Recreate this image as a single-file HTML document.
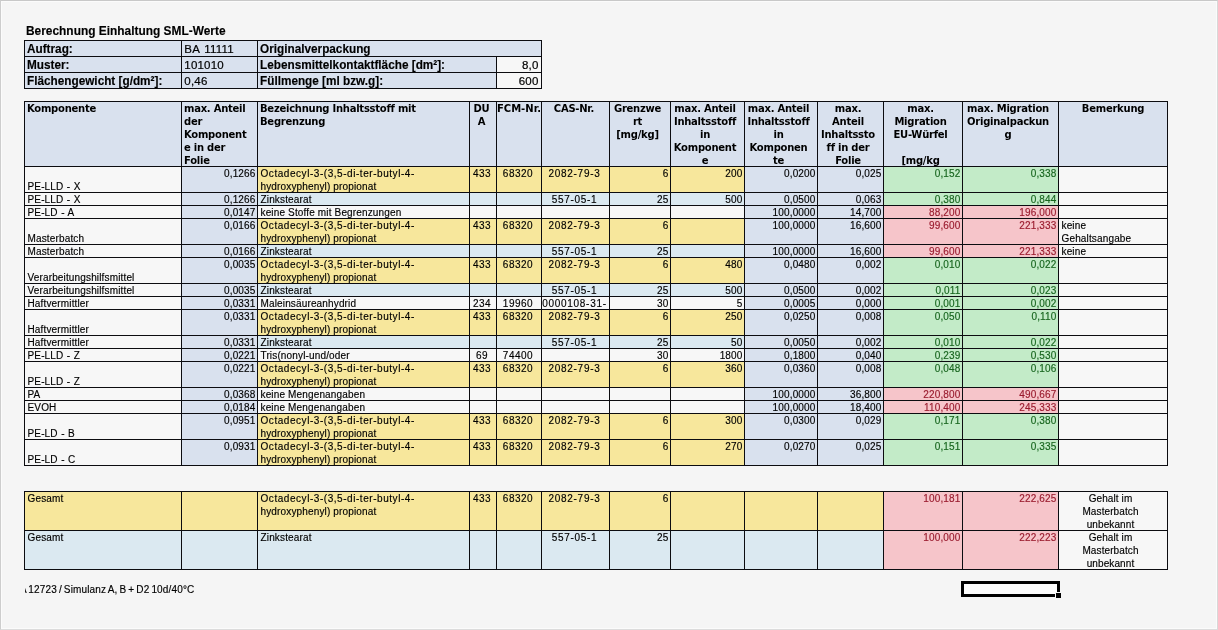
<!DOCTYPE html>
<html lang="de">
<head>
<meta charset="utf-8">
<title>Berechnung Einhaltung SML-Werte</title>
<style>
html,body{margin:0;padding:0}
body{width:1218px;height:630px;position:relative;overflow:hidden;background:#f5f5f5;font-family:"Liberation Sans",Arial,sans-serif;color:#000}
.frame{position:absolute;left:0;top:0;width:1216px;height:628px;border:1px solid #c8c8c8;border-left-color:#cdcdcd;border-right-color:#d8d8d8;border-bottom-color:#dcdcdc;box-shadow:inset 0 0 0 1px #fbfbfb}
.g{position:absolute;background:#0c0c10}
.c{position:absolute;box-sizing:border-box;overflow:hidden;white-space:nowrap;padding:0 1px 0 2px}
.title{position:absolute;left:25.5px;top:23px;font-weight:bold;font-size:12.3px;line-height:16px;white-space:nowrap;-webkit-text-stroke:.15px;transform:scaleX(.968);transform-origin:0 0}
.tb{font-weight:bold;font-size:12.3px;line-height:15px;-webkit-text-stroke:.15px;padding:1px 0 0 1.5px}
.tb span{display:inline-block;transform:scaleX(.957);transform-origin:0 0}
.tn{font-size:11.5px;line-height:15px;letter-spacing:.2px;-webkit-text-stroke:.2px;padding:1px 0 0 2.3px;word-spacing:1.5px}
.tn.r{padding-right:2.5px}
.h{font-family:"DejaVu Sans","Liberation Sans",sans-serif;font-weight:bold;font-size:10px;line-height:13px;letter-spacing:-.25px}
.n{font-size:10px;line-height:13px;letter-spacing:.15px;-webkit-text-stroke:.15px;padding-left:2.5px}
.nm{word-spacing:.5px}
.n span{letter-spacing:.55px}
.r{text-align:right;padding-right:1.5px}
.ctr{text-align:center}
.n.ctr{padding:0 2px 0 0;letter-spacing:.5px}
.n.ctr.hy{letter-spacing:.7px}
.n.ctr.tx{padding:0 5px 0 0;letter-spacing:.1px}
.h.ctr{padding:0 3px 0 0}
.h.fc{padding:0;letter-spacing:0}
.h.c2{padding:0 5px 0 0}
.h.c0{padding:0}
.bot{padding-top:13px}
.gt{color:#17651e}
.rt{color:#9a1b2e}
.foot{position:absolute;left:25px;top:583px;width:300px;height:13px;overflow:hidden;white-space:nowrap;font-size:10px;line-height:13px;letter-spacing:.15px;word-spacing:-.9px;-webkit-text-stroke:.15px}
.foot span{margin-left:-5px}
.sel{position:absolute;left:961px;top:581px;width:99px;height:16px;box-sizing:border-box;border:3px solid #000;background:#fcfcfc}
.hand{position:absolute;left:1055px;top:592px;width:5px;height:5px;background:#000;border-left:1px solid #f5f5f5;border-top:1px solid #f5f5f5}
</style>
</head>
<body>
<div class="frame"></div>
<div class="title">Berechnung Einhaltung SML-Werte</div>
<div class="g" style="left:24px;top:40px;width:518px;height:49px"></div>
<div class="c tb" style="left:25px;top:41px;width:156px;height:15px;background:#d9e1ee"><span>Auftrag:</span></div>
<div class="c tn" style="left:182px;top:41px;width:75px;height:15px;background:#d9e1ee">BA 11111</div>
<div class="c tb" style="left:258px;top:41px;width:283px;height:15px;background:#d9e1ee"><span>Originalverpackung</span></div>
<div class="c tb" style="left:25px;top:57px;width:156px;height:15px;background:#d9e1ee"><span>Muster:</span></div>
<div class="c tn" style="left:182px;top:57px;width:75px;height:15px;background:#d9e1ee">101010</div>
<div class="c tb" style="left:258px;top:57px;width:238px;height:15px;background:#d9e1ee"><span>Lebensmittelkontaktfläche [dm²]:</span></div>
<div class="c tn r" style="left:497px;top:57px;width:44px;height:15px;background:#f7f7f7">8,0</div>
<div class="c tb" style="left:25px;top:73px;width:156px;height:15px;background:#d9e1ee"><span>Flächengewicht [g/dm²]:</span></div>
<div class="c tn" style="left:182px;top:73px;width:75px;height:15px;background:#d9e1ee">0,46</div>
<div class="c tb" style="left:258px;top:73px;width:238px;height:15px;background:#d9e1ee"><span>Füllmenge [ml bzw.g]:</span></div>
<div class="c tn r" style="left:497px;top:73px;width:44px;height:15px;background:#f7f7f7">600</div>
<div class="g" style="left:24px;top:101px;width:1144px;height:365px"></div>
<div class="c h" style="left:25px;top:102px;width:156px;height:64px;background:#d9e1ee">Komponente</div>
<div class="c h" style="left:182px;top:102px;width:75px;height:64px;background:#d9e1ee">max. Anteil<br>der<br>Komponent<br>e in der<br>Folie</div>
<div class="c h" style="left:258px;top:102px;width:211px;height:64px;background:#d9e1ee">Bezeichnung Inhaltsstoff mit<br>Begrenzung</div>
<div class="c h ctr" style="left:470px;top:102px;width:26px;height:64px;background:#d9e1ee">DU<br>A</div>
<div class="c h fc" style="left:497px;top:102px;width:44px;height:64px;background:#d9e1ee">FCM-Nr.</div>
<div class="c h ctr" style="left:542px;top:102px;width:67px;height:64px;background:#d9e1ee">CAS-Nr.</div>
<div class="c h ctr c2" style="left:610px;top:102px;width:60px;height:64px;background:#d9e1ee">Grenzwe<br>rt<br>[mg/kg]</div>
<div class="c h ctr c2" style="left:671px;top:102px;width:73px;height:64px;background:#d9e1ee">max. Anteil<br>Inhaltsstoff<br>in<br>Komponent<br>e</div>
<div class="c h ctr c2" style="left:745px;top:102px;width:72px;height:64px;background:#d9e1ee">max. Anteil<br>Inhaltsstoff<br>in<br>Komponen<br>te</div>
<div class="c h ctr c2" style="left:818px;top:102px;width:65px;height:64px;background:#d9e1ee">max.<br>Anteil<br>Inhaltssto<br>ff in der<br>Folie</div>
<div class="c h ctr c2" style="left:884px;top:102px;width:78px;height:64px;background:#d9e1ee">max.<br>Migration<br>EU-Würfel<br><br>[mg/kg</div>
<div class="c h ctr c2" style="left:963px;top:102px;width:95px;height:64px;background:#d9e1ee">max. Migration<br>Originalpackun<br>g</div>
<div class="c h ctr c0" style="left:1059px;top:102px;width:108px;height:64px;background:#d9e1ee">Bemerkung</div>
<div class="c n nm bot" style="left:25px;top:167px;width:156px;height:25px;background:#f7f7f7">PE-LLD - X</div>
<div class="c n r" style="left:182px;top:167px;width:75px;height:25px;background:#d9e1ee">0,1266</div>
<div class="c n" style="left:258px;top:167px;width:211px;height:25px;background:#f7e79c"><span>Octadecyl-3-(3,5-di-ter-butyl-4-</span><br>hydroxyphenyl) propionat</div>
<div class="c n ctr" style="left:470px;top:167px;width:26px;height:25px;background:#f7e79c">433</div>
<div class="c n ctr" style="left:497px;top:167px;width:44px;height:25px;background:#f7e79c">68320</div>
<div class="c n ctr hy" style="left:542px;top:167px;width:67px;height:25px;background:#f7e79c">2082-79-3</div>
<div class="c n r" style="left:610px;top:167px;width:60px;height:25px;background:#f7e79c">6</div>
<div class="c n r" style="left:671px;top:167px;width:73px;height:25px;background:#f7e79c">200</div>
<div class="c n r" style="left:745px;top:167px;width:72px;height:25px;background:#d9e1ee">0,0200</div>
<div class="c n r" style="left:818px;top:167px;width:65px;height:25px;background:#d9e1ee">0,025</div>
<div class="c n r gt" style="left:884px;top:167px;width:78px;height:25px;background:#c3ebc8">0,152</div>
<div class="c n r gt" style="left:963px;top:167px;width:95px;height:25px;background:#c3ebc8">0,338</div>
<div class="c n" style="left:1059px;top:167px;width:108px;height:25px;background:#f7f7f7"></div>
<div class="c n nm" style="left:25px;top:193px;width:156px;height:12px;background:#f7f7f7">PE-LLD - X</div>
<div class="c n r" style="left:182px;top:193px;width:75px;height:12px;background:#d9e1ee">0,1266</div>
<div class="c n" style="left:258px;top:193px;width:211px;height:12px;background:#dbe9f1">Zinkstearat</div>
<div class="c n ctr" style="left:470px;top:193px;width:26px;height:12px;background:#dbe9f1"></div>
<div class="c n ctr" style="left:497px;top:193px;width:44px;height:12px;background:#dbe9f1"></div>
<div class="c n ctr hy" style="left:542px;top:193px;width:67px;height:12px;background:#dbe9f1">557-05-1</div>
<div class="c n r" style="left:610px;top:193px;width:60px;height:12px;background:#dbe9f1">25</div>
<div class="c n r" style="left:671px;top:193px;width:73px;height:12px;background:#dbe9f1">500</div>
<div class="c n r" style="left:745px;top:193px;width:72px;height:12px;background:#d9e1ee">0,0500</div>
<div class="c n r" style="left:818px;top:193px;width:65px;height:12px;background:#d9e1ee">0,063</div>
<div class="c n r gt" style="left:884px;top:193px;width:78px;height:12px;background:#c3ebc8">0,380</div>
<div class="c n r gt" style="left:963px;top:193px;width:95px;height:12px;background:#c3ebc8">0,844</div>
<div class="c n" style="left:1059px;top:193px;width:108px;height:12px;background:#f7f7f7"></div>
<div class="c n nm" style="left:25px;top:206px;width:156px;height:12px;background:#f7f7f7">PE-LD - A</div>
<div class="c n r" style="left:182px;top:206px;width:75px;height:12px;background:#d9e1ee">0,0147</div>
<div class="c n" style="left:258px;top:206px;width:211px;height:12px;background:#f7f7f7">keine Stoffe mit Begrenzungen</div>
<div class="c n ctr" style="left:470px;top:206px;width:26px;height:12px;background:#f7f7f7"></div>
<div class="c n ctr" style="left:497px;top:206px;width:44px;height:12px;background:#f7f7f7"></div>
<div class="c n ctr hy" style="left:542px;top:206px;width:67px;height:12px;background:#f7f7f7"></div>
<div class="c n r" style="left:610px;top:206px;width:60px;height:12px;background:#f7f7f7"></div>
<div class="c n r" style="left:671px;top:206px;width:73px;height:12px;background:#f7f7f7"></div>
<div class="c n r" style="left:745px;top:206px;width:72px;height:12px;background:#d9e1ee">100,0000</div>
<div class="c n r" style="left:818px;top:206px;width:65px;height:12px;background:#d9e1ee">14,700</div>
<div class="c n r rt" style="left:884px;top:206px;width:78px;height:12px;background:#f6c5ca">88,200</div>
<div class="c n r rt" style="left:963px;top:206px;width:95px;height:12px;background:#f6c5ca">196,000</div>
<div class="c n" style="left:1059px;top:206px;width:108px;height:12px;background:#f7f7f7"></div>
<div class="c n nm bot" style="left:25px;top:219px;width:156px;height:25px;background:#f7f7f7">Masterbatch</div>
<div class="c n r" style="left:182px;top:219px;width:75px;height:25px;background:#d9e1ee">0,0166</div>
<div class="c n" style="left:258px;top:219px;width:211px;height:25px;background:#f7e79c"><span>Octadecyl-3-(3,5-di-ter-butyl-4-</span><br>hydroxyphenyl) propionat</div>
<div class="c n ctr" style="left:470px;top:219px;width:26px;height:25px;background:#f7e79c">433</div>
<div class="c n ctr" style="left:497px;top:219px;width:44px;height:25px;background:#f7e79c">68320</div>
<div class="c n ctr hy" style="left:542px;top:219px;width:67px;height:25px;background:#f7e79c">2082-79-3</div>
<div class="c n r" style="left:610px;top:219px;width:60px;height:25px;background:#f7e79c">6</div>
<div class="c n r" style="left:671px;top:219px;width:73px;height:25px;background:#f7e79c"></div>
<div class="c n r" style="left:745px;top:219px;width:72px;height:25px;background:#d9e1ee">100,0000</div>
<div class="c n r" style="left:818px;top:219px;width:65px;height:25px;background:#d9e1ee">16,600</div>
<div class="c n r rt" style="left:884px;top:219px;width:78px;height:25px;background:#f6c5ca">99,600</div>
<div class="c n r rt" style="left:963px;top:219px;width:95px;height:25px;background:#f6c5ca">221,333</div>
<div class="c n" style="left:1059px;top:219px;width:108px;height:25px;background:#f7f7f7">keine<br>Gehaltsangabe</div>
<div class="c n nm" style="left:25px;top:245px;width:156px;height:12px;background:#f7f7f7">Masterbatch</div>
<div class="c n r" style="left:182px;top:245px;width:75px;height:12px;background:#d9e1ee">0,0166</div>
<div class="c n" style="left:258px;top:245px;width:211px;height:12px;background:#dbe9f1">Zinkstearat</div>
<div class="c n ctr" style="left:470px;top:245px;width:26px;height:12px;background:#dbe9f1"></div>
<div class="c n ctr" style="left:497px;top:245px;width:44px;height:12px;background:#dbe9f1"></div>
<div class="c n ctr hy" style="left:542px;top:245px;width:67px;height:12px;background:#dbe9f1">557-05-1</div>
<div class="c n r" style="left:610px;top:245px;width:60px;height:12px;background:#dbe9f1">25</div>
<div class="c n r" style="left:671px;top:245px;width:73px;height:12px;background:#dbe9f1"></div>
<div class="c n r" style="left:745px;top:245px;width:72px;height:12px;background:#d9e1ee">100,0000</div>
<div class="c n r" style="left:818px;top:245px;width:65px;height:12px;background:#d9e1ee">16,600</div>
<div class="c n r rt" style="left:884px;top:245px;width:78px;height:12px;background:#f6c5ca">99,600</div>
<div class="c n r rt" style="left:963px;top:245px;width:95px;height:12px;background:#f6c5ca">221,333</div>
<div class="c n" style="left:1059px;top:245px;width:108px;height:12px;background:#f7f7f7">keine</div>
<div class="c n nm bot" style="left:25px;top:258px;width:156px;height:25px;background:#f7f7f7">Verarbeitungshilfsmittel</div>
<div class="c n r" style="left:182px;top:258px;width:75px;height:25px;background:#d9e1ee">0,0035</div>
<div class="c n" style="left:258px;top:258px;width:211px;height:25px;background:#f7e79c"><span>Octadecyl-3-(3,5-di-ter-butyl-4-</span><br>hydroxyphenyl) propionat</div>
<div class="c n ctr" style="left:470px;top:258px;width:26px;height:25px;background:#f7e79c">433</div>
<div class="c n ctr" style="left:497px;top:258px;width:44px;height:25px;background:#f7e79c">68320</div>
<div class="c n ctr hy" style="left:542px;top:258px;width:67px;height:25px;background:#f7e79c">2082-79-3</div>
<div class="c n r" style="left:610px;top:258px;width:60px;height:25px;background:#f7e79c">6</div>
<div class="c n r" style="left:671px;top:258px;width:73px;height:25px;background:#f7e79c">480</div>
<div class="c n r" style="left:745px;top:258px;width:72px;height:25px;background:#d9e1ee">0,0480</div>
<div class="c n r" style="left:818px;top:258px;width:65px;height:25px;background:#d9e1ee">0,002</div>
<div class="c n r gt" style="left:884px;top:258px;width:78px;height:25px;background:#c3ebc8">0,010</div>
<div class="c n r gt" style="left:963px;top:258px;width:95px;height:25px;background:#c3ebc8">0,022</div>
<div class="c n" style="left:1059px;top:258px;width:108px;height:25px;background:#f7f7f7"></div>
<div class="c n nm" style="left:25px;top:284px;width:156px;height:12px;background:#f7f7f7">Verarbeitungshilfsmittel</div>
<div class="c n r" style="left:182px;top:284px;width:75px;height:12px;background:#d9e1ee">0,0035</div>
<div class="c n" style="left:258px;top:284px;width:211px;height:12px;background:#dbe9f1">Zinkstearat</div>
<div class="c n ctr" style="left:470px;top:284px;width:26px;height:12px;background:#dbe9f1"></div>
<div class="c n ctr" style="left:497px;top:284px;width:44px;height:12px;background:#dbe9f1"></div>
<div class="c n ctr hy" style="left:542px;top:284px;width:67px;height:12px;background:#dbe9f1">557-05-1</div>
<div class="c n r" style="left:610px;top:284px;width:60px;height:12px;background:#dbe9f1">25</div>
<div class="c n r" style="left:671px;top:284px;width:73px;height:12px;background:#dbe9f1">500</div>
<div class="c n r" style="left:745px;top:284px;width:72px;height:12px;background:#d9e1ee">0,0500</div>
<div class="c n r" style="left:818px;top:284px;width:65px;height:12px;background:#d9e1ee">0,002</div>
<div class="c n r gt" style="left:884px;top:284px;width:78px;height:12px;background:#c3ebc8">0,011</div>
<div class="c n r gt" style="left:963px;top:284px;width:95px;height:12px;background:#c3ebc8">0,023</div>
<div class="c n" style="left:1059px;top:284px;width:108px;height:12px;background:#f7f7f7"></div>
<div class="c n nm" style="left:25px;top:297px;width:156px;height:12px;background:#f7f7f7">Haftvermittler</div>
<div class="c n r" style="left:182px;top:297px;width:75px;height:12px;background:#d9e1ee">0,0331</div>
<div class="c n" style="left:258px;top:297px;width:211px;height:12px;background:#f7f7f7">Maleinsäureanhydrid</div>
<div class="c n ctr" style="left:470px;top:297px;width:26px;height:12px;background:#f7f7f7">234</div>
<div class="c n ctr" style="left:497px;top:297px;width:44px;height:12px;background:#f7f7f7">19960</div>
<div class="c n ctr hy" style="left:542px;top:297px;width:67px;height:12px;background:#f7f7f7">0000108-31-</div>
<div class="c n r" style="left:610px;top:297px;width:60px;height:12px;background:#f7f7f7">30</div>
<div class="c n r" style="left:671px;top:297px;width:73px;height:12px;background:#f7f7f7">5</div>
<div class="c n r" style="left:745px;top:297px;width:72px;height:12px;background:#d9e1ee">0,0005</div>
<div class="c n r" style="left:818px;top:297px;width:65px;height:12px;background:#d9e1ee">0,000</div>
<div class="c n r gt" style="left:884px;top:297px;width:78px;height:12px;background:#c3ebc8">0,001</div>
<div class="c n r gt" style="left:963px;top:297px;width:95px;height:12px;background:#c3ebc8">0,002</div>
<div class="c n" style="left:1059px;top:297px;width:108px;height:12px;background:#f7f7f7"></div>
<div class="c n nm bot" style="left:25px;top:310px;width:156px;height:25px;background:#f7f7f7">Haftvermittler</div>
<div class="c n r" style="left:182px;top:310px;width:75px;height:25px;background:#d9e1ee">0,0331</div>
<div class="c n" style="left:258px;top:310px;width:211px;height:25px;background:#f7e79c"><span>Octadecyl-3-(3,5-di-ter-butyl-4-</span><br>hydroxyphenyl) propionat</div>
<div class="c n ctr" style="left:470px;top:310px;width:26px;height:25px;background:#f7e79c">433</div>
<div class="c n ctr" style="left:497px;top:310px;width:44px;height:25px;background:#f7e79c">68320</div>
<div class="c n ctr hy" style="left:542px;top:310px;width:67px;height:25px;background:#f7e79c">2082-79-3</div>
<div class="c n r" style="left:610px;top:310px;width:60px;height:25px;background:#f7e79c">6</div>
<div class="c n r" style="left:671px;top:310px;width:73px;height:25px;background:#f7e79c">250</div>
<div class="c n r" style="left:745px;top:310px;width:72px;height:25px;background:#d9e1ee">0,0250</div>
<div class="c n r" style="left:818px;top:310px;width:65px;height:25px;background:#d9e1ee">0,008</div>
<div class="c n r gt" style="left:884px;top:310px;width:78px;height:25px;background:#c3ebc8">0,050</div>
<div class="c n r gt" style="left:963px;top:310px;width:95px;height:25px;background:#c3ebc8">0,110</div>
<div class="c n" style="left:1059px;top:310px;width:108px;height:25px;background:#f7f7f7"></div>
<div class="c n nm" style="left:25px;top:336px;width:156px;height:12px;background:#f7f7f7">Haftvermittler</div>
<div class="c n r" style="left:182px;top:336px;width:75px;height:12px;background:#d9e1ee">0,0331</div>
<div class="c n" style="left:258px;top:336px;width:211px;height:12px;background:#dbe9f1">Zinkstearat</div>
<div class="c n ctr" style="left:470px;top:336px;width:26px;height:12px;background:#dbe9f1"></div>
<div class="c n ctr" style="left:497px;top:336px;width:44px;height:12px;background:#dbe9f1"></div>
<div class="c n ctr hy" style="left:542px;top:336px;width:67px;height:12px;background:#dbe9f1">557-05-1</div>
<div class="c n r" style="left:610px;top:336px;width:60px;height:12px;background:#dbe9f1">25</div>
<div class="c n r" style="left:671px;top:336px;width:73px;height:12px;background:#dbe9f1">50</div>
<div class="c n r" style="left:745px;top:336px;width:72px;height:12px;background:#d9e1ee">0,0050</div>
<div class="c n r" style="left:818px;top:336px;width:65px;height:12px;background:#d9e1ee">0,002</div>
<div class="c n r gt" style="left:884px;top:336px;width:78px;height:12px;background:#c3ebc8">0,010</div>
<div class="c n r gt" style="left:963px;top:336px;width:95px;height:12px;background:#c3ebc8">0,022</div>
<div class="c n" style="left:1059px;top:336px;width:108px;height:12px;background:#f7f7f7"></div>
<div class="c n nm" style="left:25px;top:349px;width:156px;height:12px;background:#f7f7f7">PE-LLD - Z</div>
<div class="c n r" style="left:182px;top:349px;width:75px;height:12px;background:#d9e1ee">0,0221</div>
<div class="c n" style="left:258px;top:349px;width:211px;height:12px;background:#f7f7f7">Tris(nonyl-und/oder</div>
<div class="c n ctr" style="left:470px;top:349px;width:26px;height:12px;background:#f7f7f7">69</div>
<div class="c n ctr" style="left:497px;top:349px;width:44px;height:12px;background:#f7f7f7">74400</div>
<div class="c n ctr hy" style="left:542px;top:349px;width:67px;height:12px;background:#f7f7f7"></div>
<div class="c n r" style="left:610px;top:349px;width:60px;height:12px;background:#f7f7f7">30</div>
<div class="c n r" style="left:671px;top:349px;width:73px;height:12px;background:#f7f7f7">1800</div>
<div class="c n r" style="left:745px;top:349px;width:72px;height:12px;background:#d9e1ee">0,1800</div>
<div class="c n r" style="left:818px;top:349px;width:65px;height:12px;background:#d9e1ee">0,040</div>
<div class="c n r gt" style="left:884px;top:349px;width:78px;height:12px;background:#c3ebc8">0,239</div>
<div class="c n r gt" style="left:963px;top:349px;width:95px;height:12px;background:#c3ebc8">0,530</div>
<div class="c n" style="left:1059px;top:349px;width:108px;height:12px;background:#f7f7f7"></div>
<div class="c n nm bot" style="left:25px;top:362px;width:156px;height:25px;background:#f7f7f7">PE-LLD - Z</div>
<div class="c n r" style="left:182px;top:362px;width:75px;height:25px;background:#d9e1ee">0,0221</div>
<div class="c n" style="left:258px;top:362px;width:211px;height:25px;background:#f7e79c"><span>Octadecyl-3-(3,5-di-ter-butyl-4-</span><br>hydroxyphenyl) propionat</div>
<div class="c n ctr" style="left:470px;top:362px;width:26px;height:25px;background:#f7e79c">433</div>
<div class="c n ctr" style="left:497px;top:362px;width:44px;height:25px;background:#f7e79c">68320</div>
<div class="c n ctr hy" style="left:542px;top:362px;width:67px;height:25px;background:#f7e79c">2082-79-3</div>
<div class="c n r" style="left:610px;top:362px;width:60px;height:25px;background:#f7e79c">6</div>
<div class="c n r" style="left:671px;top:362px;width:73px;height:25px;background:#f7e79c">360</div>
<div class="c n r" style="left:745px;top:362px;width:72px;height:25px;background:#d9e1ee">0,0360</div>
<div class="c n r" style="left:818px;top:362px;width:65px;height:25px;background:#d9e1ee">0,008</div>
<div class="c n r gt" style="left:884px;top:362px;width:78px;height:25px;background:#c3ebc8">0,048</div>
<div class="c n r gt" style="left:963px;top:362px;width:95px;height:25px;background:#c3ebc8">0,106</div>
<div class="c n" style="left:1059px;top:362px;width:108px;height:25px;background:#f7f7f7"></div>
<div class="c n nm" style="left:25px;top:388px;width:156px;height:12px;background:#f7f7f7">PA</div>
<div class="c n r" style="left:182px;top:388px;width:75px;height:12px;background:#d9e1ee">0,0368</div>
<div class="c n" style="left:258px;top:388px;width:211px;height:12px;background:#f7f7f7">keine Mengenangaben</div>
<div class="c n ctr" style="left:470px;top:388px;width:26px;height:12px;background:#f7f7f7"></div>
<div class="c n ctr" style="left:497px;top:388px;width:44px;height:12px;background:#f7f7f7"></div>
<div class="c n ctr hy" style="left:542px;top:388px;width:67px;height:12px;background:#f7f7f7"></div>
<div class="c n r" style="left:610px;top:388px;width:60px;height:12px;background:#f7f7f7"></div>
<div class="c n r" style="left:671px;top:388px;width:73px;height:12px;background:#f7f7f7"></div>
<div class="c n r" style="left:745px;top:388px;width:72px;height:12px;background:#d9e1ee">100,0000</div>
<div class="c n r" style="left:818px;top:388px;width:65px;height:12px;background:#d9e1ee">36,800</div>
<div class="c n r rt" style="left:884px;top:388px;width:78px;height:12px;background:#f6c5ca">220,800</div>
<div class="c n r rt" style="left:963px;top:388px;width:95px;height:12px;background:#f6c5ca">490,667</div>
<div class="c n" style="left:1059px;top:388px;width:108px;height:12px;background:#f7f7f7"></div>
<div class="c n nm" style="left:25px;top:401px;width:156px;height:12px;background:#f7f7f7">EVOH</div>
<div class="c n r" style="left:182px;top:401px;width:75px;height:12px;background:#d9e1ee">0,0184</div>
<div class="c n" style="left:258px;top:401px;width:211px;height:12px;background:#f7f7f7">keine Mengenangaben</div>
<div class="c n ctr" style="left:470px;top:401px;width:26px;height:12px;background:#f7f7f7"></div>
<div class="c n ctr" style="left:497px;top:401px;width:44px;height:12px;background:#f7f7f7"></div>
<div class="c n ctr hy" style="left:542px;top:401px;width:67px;height:12px;background:#f7f7f7"></div>
<div class="c n r" style="left:610px;top:401px;width:60px;height:12px;background:#f7f7f7"></div>
<div class="c n r" style="left:671px;top:401px;width:73px;height:12px;background:#f7f7f7"></div>
<div class="c n r" style="left:745px;top:401px;width:72px;height:12px;background:#d9e1ee">100,0000</div>
<div class="c n r" style="left:818px;top:401px;width:65px;height:12px;background:#d9e1ee">18,400</div>
<div class="c n r rt" style="left:884px;top:401px;width:78px;height:12px;background:#f6c5ca">110,400</div>
<div class="c n r rt" style="left:963px;top:401px;width:95px;height:12px;background:#f6c5ca">245,333</div>
<div class="c n" style="left:1059px;top:401px;width:108px;height:12px;background:#f7f7f7"></div>
<div class="c n nm bot" style="left:25px;top:414px;width:156px;height:25px;background:#f7f7f7">PE-LD - B</div>
<div class="c n r" style="left:182px;top:414px;width:75px;height:25px;background:#d9e1ee">0,0951</div>
<div class="c n" style="left:258px;top:414px;width:211px;height:25px;background:#f7e79c"><span>Octadecyl-3-(3,5-di-ter-butyl-4-</span><br>hydroxyphenyl) propionat</div>
<div class="c n ctr" style="left:470px;top:414px;width:26px;height:25px;background:#f7e79c">433</div>
<div class="c n ctr" style="left:497px;top:414px;width:44px;height:25px;background:#f7e79c">68320</div>
<div class="c n ctr hy" style="left:542px;top:414px;width:67px;height:25px;background:#f7e79c">2082-79-3</div>
<div class="c n r" style="left:610px;top:414px;width:60px;height:25px;background:#f7e79c">6</div>
<div class="c n r" style="left:671px;top:414px;width:73px;height:25px;background:#f7e79c">300</div>
<div class="c n r" style="left:745px;top:414px;width:72px;height:25px;background:#d9e1ee">0,0300</div>
<div class="c n r" style="left:818px;top:414px;width:65px;height:25px;background:#d9e1ee">0,029</div>
<div class="c n r gt" style="left:884px;top:414px;width:78px;height:25px;background:#c3ebc8">0,171</div>
<div class="c n r gt" style="left:963px;top:414px;width:95px;height:25px;background:#c3ebc8">0,380</div>
<div class="c n" style="left:1059px;top:414px;width:108px;height:25px;background:#f7f7f7"></div>
<div class="c n nm bot" style="left:25px;top:440px;width:156px;height:25px;background:#f7f7f7">PE-LD - C</div>
<div class="c n r" style="left:182px;top:440px;width:75px;height:25px;background:#d9e1ee">0,0931</div>
<div class="c n" style="left:258px;top:440px;width:211px;height:25px;background:#f7e79c"><span>Octadecyl-3-(3,5-di-ter-butyl-4-</span><br>hydroxyphenyl) propionat</div>
<div class="c n ctr" style="left:470px;top:440px;width:26px;height:25px;background:#f7e79c">433</div>
<div class="c n ctr" style="left:497px;top:440px;width:44px;height:25px;background:#f7e79c">68320</div>
<div class="c n ctr hy" style="left:542px;top:440px;width:67px;height:25px;background:#f7e79c">2082-79-3</div>
<div class="c n r" style="left:610px;top:440px;width:60px;height:25px;background:#f7e79c">6</div>
<div class="c n r" style="left:671px;top:440px;width:73px;height:25px;background:#f7e79c">270</div>
<div class="c n r" style="left:745px;top:440px;width:72px;height:25px;background:#d9e1ee">0,0270</div>
<div class="c n r" style="left:818px;top:440px;width:65px;height:25px;background:#d9e1ee">0,025</div>
<div class="c n r gt" style="left:884px;top:440px;width:78px;height:25px;background:#c3ebc8">0,151</div>
<div class="c n r gt" style="left:963px;top:440px;width:95px;height:25px;background:#c3ebc8">0,335</div>
<div class="c n" style="left:1059px;top:440px;width:108px;height:25px;background:#f7f7f7"></div>
<div class="g" style="left:24px;top:491px;width:1144px;height:79px"></div>
<div class="c n" style="left:25px;top:492px;width:156px;height:38px;background:#f7e79c">Gesamt</div>
<div class="c n r" style="left:182px;top:492px;width:75px;height:38px;background:#f7e79c"></div>
<div class="c n" style="left:258px;top:492px;width:211px;height:38px;background:#f7e79c"><span>Octadecyl-3-(3,5-di-ter-butyl-4-</span><br>hydroxyphenyl) propionat</div>
<div class="c n ctr" style="left:470px;top:492px;width:26px;height:38px;background:#f7e79c">433</div>
<div class="c n ctr" style="left:497px;top:492px;width:44px;height:38px;background:#f7e79c">68320</div>
<div class="c n ctr hy" style="left:542px;top:492px;width:67px;height:38px;background:#f7e79c">2082-79-3</div>
<div class="c n r" style="left:610px;top:492px;width:60px;height:38px;background:#f7e79c">6</div>
<div class="c n r" style="left:671px;top:492px;width:73px;height:38px;background:#f7e79c"></div>
<div class="c n r" style="left:745px;top:492px;width:72px;height:38px;background:#f7e79c"></div>
<div class="c n r" style="left:818px;top:492px;width:65px;height:38px;background:#f7e79c"></div>
<div class="c n r rt" style="left:884px;top:492px;width:78px;height:38px;background:#f6c5ca">100,181</div>
<div class="c n r rt" style="left:963px;top:492px;width:95px;height:38px;background:#f6c5ca">222,625</div>
<div class="c n ctr tx" style="left:1059px;top:492px;width:108px;height:38px;background:#f7f7f7">Gehalt im<br>Masterbatch<br>unbekannt</div>
<div class="c n" style="left:25px;top:531px;width:156px;height:38px;background:#dbe9f1">Gesamt</div>
<div class="c n r" style="left:182px;top:531px;width:75px;height:38px;background:#dbe9f1"></div>
<div class="c n" style="left:258px;top:531px;width:211px;height:38px;background:#dbe9f1">Zinkstearat</div>
<div class="c n ctr" style="left:470px;top:531px;width:26px;height:38px;background:#dbe9f1"></div>
<div class="c n ctr" style="left:497px;top:531px;width:44px;height:38px;background:#dbe9f1"></div>
<div class="c n ctr hy" style="left:542px;top:531px;width:67px;height:38px;background:#dbe9f1">557-05-1</div>
<div class="c n r" style="left:610px;top:531px;width:60px;height:38px;background:#dbe9f1">25</div>
<div class="c n r" style="left:671px;top:531px;width:73px;height:38px;background:#dbe9f1"></div>
<div class="c n r" style="left:745px;top:531px;width:72px;height:38px;background:#dbe9f1"></div>
<div class="c n r" style="left:818px;top:531px;width:65px;height:38px;background:#dbe9f1"></div>
<div class="c n r rt" style="left:884px;top:531px;width:78px;height:38px;background:#f6c5ca">100,000</div>
<div class="c n r rt" style="left:963px;top:531px;width:95px;height:38px;background:#f6c5ca">222,223</div>
<div class="c n ctr tx" style="left:1059px;top:531px;width:108px;height:38px;background:#f7f7f7">Gehalt im<br>Masterbatch<br>unbekannt</div>
<div class="foot"><span>A 12723 / Simulanz A, B + D2 10d/40°C</span></div>
<div class="sel"></div>
<div class="hand"></div>
</body>
</html>
